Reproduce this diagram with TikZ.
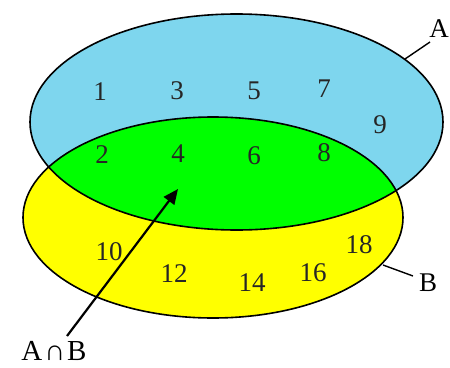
\documentclass[tikz,border=0pt]{standalone}
\usepackage{fontspec}
\setmainfont{Liberation Serif}
\usetikzlibrary{arrows.meta}
\definecolor{setblue}{RGB}{126,214,238}
\definecolor{setgreen}{RGB}{0,255,0}
\definecolor{setyellow}{RGB}{255,255,0}
\tikzset{
  num/.style={font=\fontsize{27}{30}\selectfont, text=black!85, inner sep=0pt},
  lbl/.style={font=\fontsize{27}{31}\selectfont, inner sep=0pt},
  biglbl/.style={font=\fontsize{29}{33}\selectfont, inner sep=0pt},
  outline/.style={draw=black, line width=1.6pt},
  tick/.style={draw=black, line width=1.4pt},
  pointer/.style={draw=black, line width=2.2pt, -{Triangle[length=15pt,width=13pt]}}
}
\begin{document}
\begin{tikzpicture}[x=1pt,y=-1pt]
\useasboundingbox (0,0) rectangle (450,367);
\coordinate (cA) at (236.5,122);
\coordinate (cB) at (213,217.5);
% fills
\fill[setyellow] (cB) ellipse [x radius=190, y radius=100.5];
\fill[setblue] (cA) ellipse [x radius=206.5, y radius=108];
\begin{scope}
  \clip (cA) ellipse [x radius=206.5, y radius=108];
  \fill[setgreen] (cB) ellipse [x radius=190, y radius=100.5];
\end{scope}
\path[outline] (cB) ellipse [x radius=190, y radius=100.5];
\path[outline] (cA) ellipse [x radius=206.5, y radius=108];
% numbers
\node[num] (n1) at (100,92) {1};
\node[num] (n3) at (177,91) {3};
\node[num] (n5) at (254,91) {5};
\node[num] (n7) at (324,89) {7};
\node[num] (n9) at (380,125) {9};
\node[num] (n2) at (102,155) {2};
\node[num] (n4) at (178,154) {4};
\node[num] (n6) at (254,156) {6};
\node[num] (n8) at (324,153) {8};
\node[num] (n10) at (109,252) {10};
\node[num] (n12) at (174,274) {12};
\node[num] (n14) at (252,283) {14};
\node[num] (n16) at (313,273) {16};
\node[num] (n18) at (359,245) {18};
% labels
\node[lbl] (lA) at (439,29) {A};
\node[lbl] (lB) at (428,283) {B};
\node[biglbl] (lAB) at (54,351) {A\kern2pt∩\kern2pt B};
\coordinate (eA) at (405,59);
\coordinate (tA) at (430,42);
\coordinate (eB) at (383,265);
\coordinate (tB) at (413,276);
\coordinate (tip) at (178,189);
\coordinate (tail) at (67,336);
\path[tick] (eA) -- (tA);
\path[tick] (eB) -- (tB);
\path[pointer] (tail) -- (tip);
\end{tikzpicture}
\end{document}
